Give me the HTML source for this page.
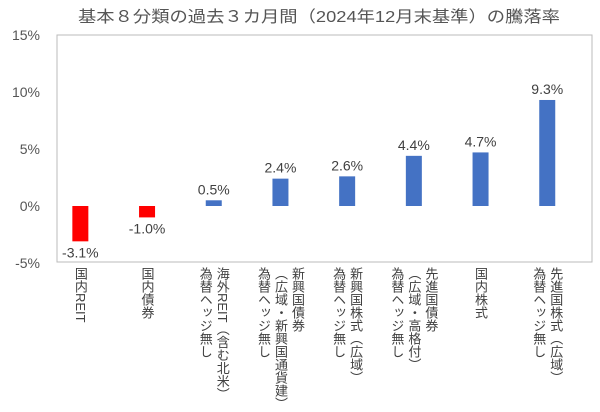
<!DOCTYPE html>
<html><head><meta charset="utf-8"><style>
body{margin:0;background:#fff;}
#c{position:relative;width:600px;height:412px;font-family:"Liberation Sans","Noto Sans CJK JP",sans-serif;color:#404040;overflow:hidden}
.xl{position:absolute;top:267px;writing-mode:vertical-rl;text-orientation:mixed;font-size:13px;line-height:17px;white-space:nowrap;text-align:start}
</style></head><body>
<div id="c">
<svg id="s" width="600" height="412" style="position:absolute;left:0;top:0">
<text x="78" y="22" font-size="16" fill="#555" textLength="482" lengthAdjust="spacingAndGlyphs" font-family="Liberation Sans, Noto Sans CJK JP, sans-serif">基本８分類の過去３カ月間（2024年12月末基準）の騰落率</text>
</svg>
</div>
<script>
const categories=["国内REIT","国内債券","海外REIT（含む北米）\n為替ヘッジ無し","新興国債券\n（広域・新興国通貨建）\n為替ヘッジ無し","新興国株式（広域）\n為替ヘッジ無し","先進国債券\n（広域・高格付）\n為替ヘッジ無し","国内株式","先進国株式（広域）\n為替ヘッジ無し"];
const values=[-3.1,-1.0,0.5,2.4,2.6,4.4,4.7,9.3];
const ticks=[15,10,5,0,-5];
const tickLabels=["15%","10%","5%","0%","-5%"];
const ns="http://www.w3.org/2000/svg";
const svg=document.getElementById('s');
const c=document.getElementById('c');
function y(v){return 206-v*11.4;}
function x(i){return 47+66.7*(i+0.5);}
function el(t,a){const e=document.createElementNS(ns,t);for(const k in a)e.setAttribute(k,a[k]);svg.appendChild(e);return e;}
const f=el('rect',{x:57,y:35,width:535,height:227,fill:'none',stroke:'#bbb','stroke-width':1});


ticks.forEach((t,i)=>{
 const tx=el('text',{x:40,y:y(t)+5,'text-anchor':'end','font-size':14,fill:'#555','font-family':'Liberation Sans, sans-serif'});
 tx.textContent=tickLabels[i];
 
 
});
values.forEach((v,i)=>{
 const top=Math.min(y(v),y(0)),h=Math.abs(y(v)-y(0));
 const b=el('rect',{x:x(i)-8,y:top,width:16,height:h,fill:v<0?'#ff0000':'#4472c4'});
 
 
 const t=el('text',{x:x(i),y:v<0?y(v)+16:y(v)-6,'text-anchor':'middle','font-size':14,fill:'#404040','font-family':'Liberation Sans, sans-serif'});
 t.textContent=v.toFixed(1)+'%';
 
 
 const d=document.createElement('div');
 d.className='xl';
 d.innerHTML=categories[i].split('\n').join('<br>');
 
 
 c.appendChild(d);
 const w=d.offsetWidth;
 d.style.left=(x(i)-w/2)+'px';
});
</script>
</body></html>
